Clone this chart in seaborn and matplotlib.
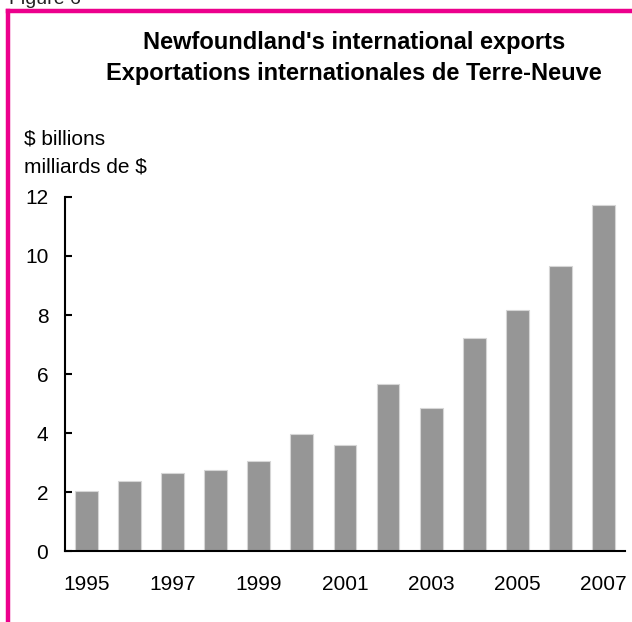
import matplotlib
matplotlib.use("Agg")
import matplotlib.pyplot as plt
from matplotlib.lines import Line2D
import seaborn as sns
import pandas as pd

# Newfoundland's international exports, $ billions
years = ["1995", "1996", "1997", "1998", "1999", "2000", "2001",
         "2002", "2003", "2004", "2005", "2006", "2007"]
exports = [2.03, 2.38, 2.63, 2.75, 3.06, 3.98, 3.58,
           5.67, 4.86, 7.23, 8.18, 9.67, 11.72]
y_ticks = [0, 2, 4, 6, 8, 10, 12]

sns.set_style("white")
plt.rcParams["font.family"] = ["Liberation Sans", "DejaVu Sans"]
plt.rcParams["text.color"] = "black"

df = pd.DataFrame({"year": years, "exports": exports})

fig = plt.figure(figsize=(6.32, 6.22), dpi=100)
ax = fig.add_axes([0.1028, 0.1141, 0.886, 0.5692])

sns.barplot(data=df, x="year", y="exports", ax=ax, color="#969696",
            saturation=1, width=0.53, edgecolor="#d6d6d6", linewidth=0.8)

ax.set_ylim(0, 12)
ax.set_xlim(-0.5, 12.5)
ax.set_yticks(y_ticks)
ax.set_yticklabels([str(v) for v in y_ticks])
ax.set_xticks(range(len(years)))
ax.set_xticklabels([y if i % 2 == 0 else "" for i, y in enumerate(years)])
ax.set_xlabel("")
ax.set_ylabel("")

for side in ("top", "right"):
    ax.spines[side].set_visible(False)
for side in ("left", "bottom"):
    ax.spines[side].set_linewidth(1.5)
    ax.spines[side].set_color("black")

ax.tick_params(axis="y", direction="in", length=5, width=1.5,
               labelsize=15, pad=12, left=True, colors="black")
ax.tick_params(axis="x", length=0, labelsize=15, pad=17, colors="black")

# Titles and unit labels
fig.text(0.560, 1 - 49 / 622, "Newfoundland's international exports",
         ha="center", va="baseline", fontsize=17, fontweight="bold",
         color="black")
fig.text(0.560, 1 - 80 / 622, "Exportations internationales de Terre-Neuve",
         ha="center", va="baseline", fontsize=17, fontweight="bold",
         color="black")
fig.text(0.038, 1 - 145 / 622, "$ billions", ha="left", va="baseline",
         fontsize=15, color="black")
fig.text(0.038, 1 - 172 / 622, "milliards de $", ha="left", va="baseline",
         fontsize=15, color="black")
fig.text(0.014, 1 - 4 / 622, "Figure 6", ha="left", va="baseline",
         fontsize=14, color="#222222")

# Magenta frame on the top and left
pink = "#EC008C"
fig.add_artist(Line2D([8 / 632, 1.0], [1 - 10.5 / 622, 1 - 10.5 / 622],
                      transform=fig.transFigure, color=pink, linewidth=3.2,
                      solid_capstyle="projecting"))
fig.add_artist(Line2D([8 / 632, 8 / 632], [1 - 10.5 / 622, 0.0],
                      transform=fig.transFigure, color=pink, linewidth=3.2,
                      solid_capstyle="projecting"))

fig.savefig("out.png", dpi=100)
